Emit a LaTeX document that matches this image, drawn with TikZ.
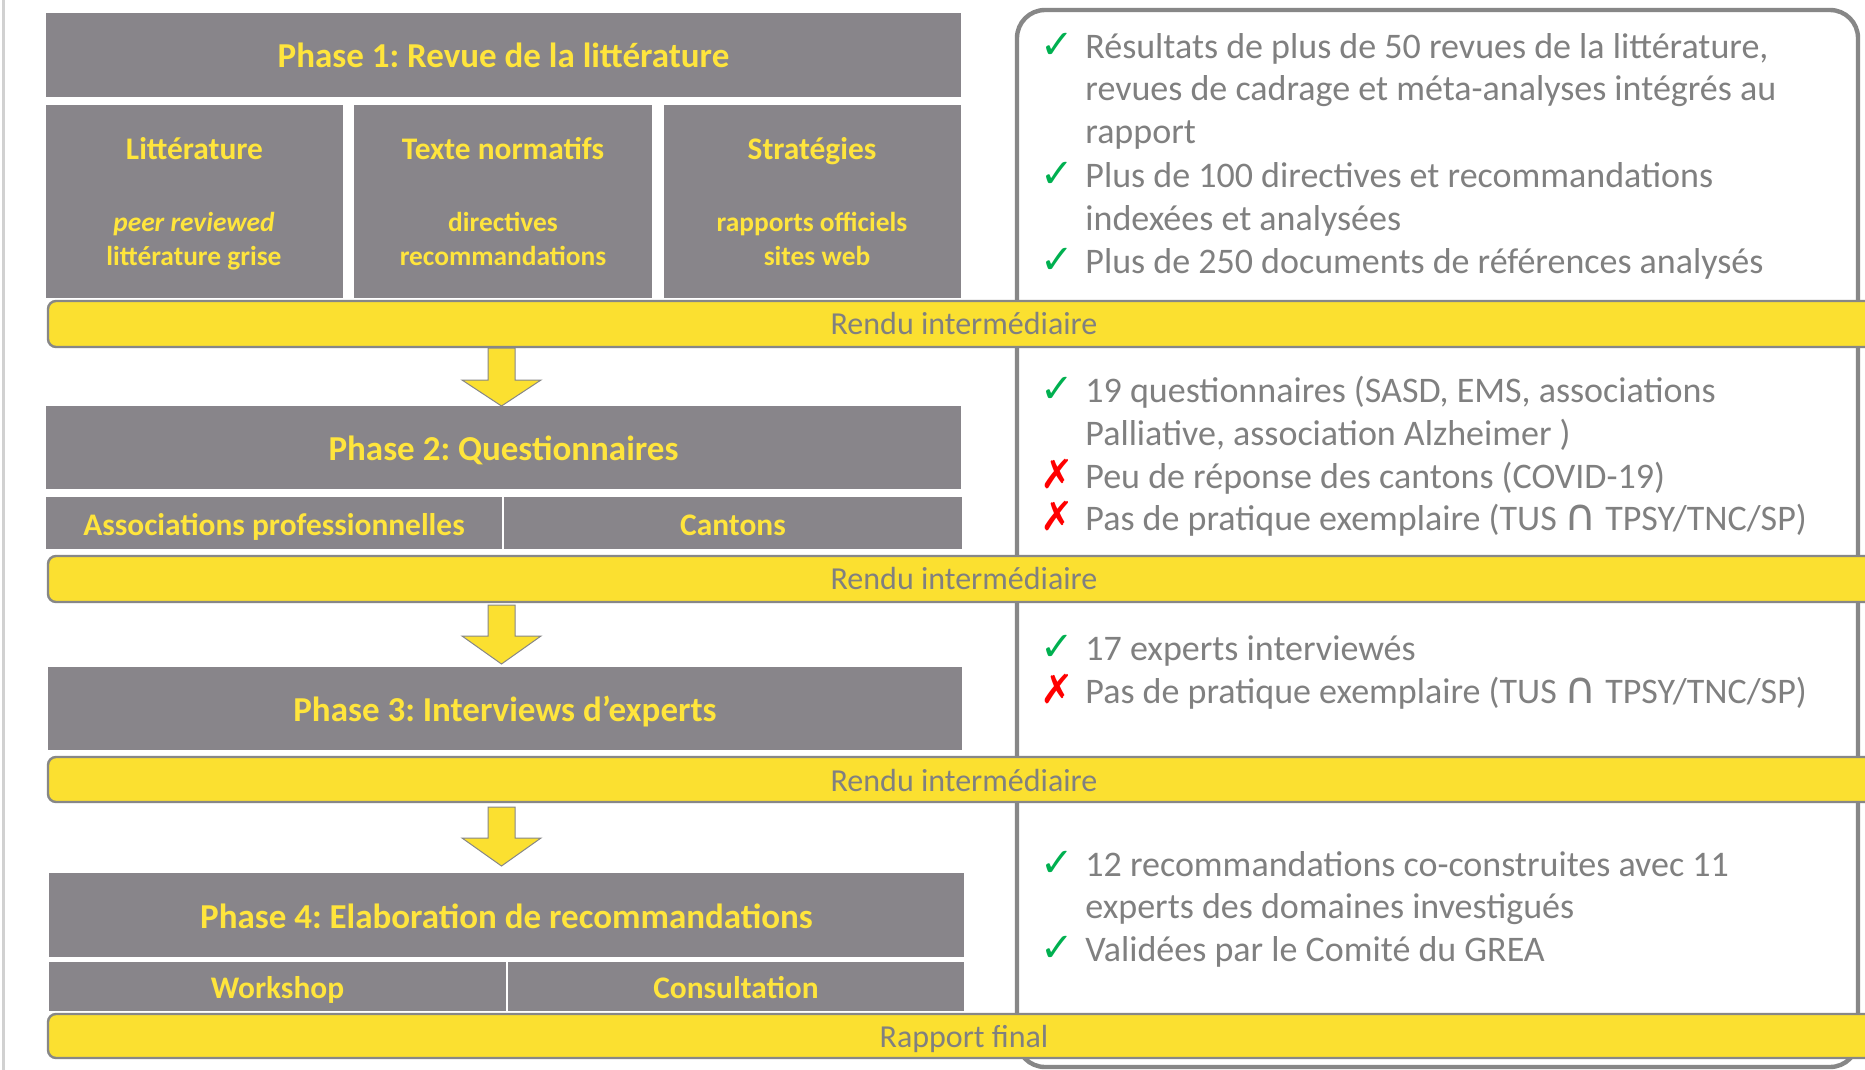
\documentclass[tikz,border=0pt]{standalone}
\usepackage{fontspec}
\setmainfont{Carlito}
\newfontfamily\symbfont{DejaVu Sans}
\frenchspacing
\definecolor{phasegray}{RGB}{136,133,138}
\definecolor{phaseyellow}{RGB}{255,229,60}
\definecolor{rendu}{RGB}{251,224,48}
\definecolor{notegray}{RGB}{128,128,128}
\definecolor{framegray}{RGB}{135,135,135}
\definecolor{okgreen}{RGB}{0,176,80}
\definecolor{kored}{RGB}{255,0,0}
\newcommand{\oktick}{\textcolor{okgreen}{\symbfont ✓}}
\newcommand{\kocross}{\textcolor{kored}{\symbfont ✗}}
\newcommand{\inter}{{\fontsize{22}{21.5}\selectfont\symbfont ∩}}
\begin{document}
\begin{tikzpicture}[x=0.5pt,y=-0.5pt,
	phase/.style={text=phaseyellow,font=\fontsize{17.5}{21}\selectfont\bfseries,anchor=base,inner sep=0pt},
	sub/.style={text=phaseyellow,font=\fontsize{15.7}{19}\selectfont\bfseries,anchor=base,inner sep=0pt},
	detail/.style={text=phaseyellow,font=\fontsize{13.7}{16}\selectfont\bfseries,anchor=base,inner sep=0pt},
	rendu/.style={fill=rendu,draw=framegray,line width=1.2pt,rounded corners=4pt},
	rendutext/.style={text=notegray,font=\fontsize{16}{19}\selectfont,anchor=base,inner sep=0pt},
	flow/.style={fill=rendu,draw=framegray,line width=0.5pt,line join=miter},
	note/.style={text=notegray,font=\fontsize{18}{21.5}\selectfont,anchor=base west,inner sep=0pt},
	tick/.style={font=\fontsize{20}{21.5}\selectfont,anchor=base west,inner sep=0pt}]
	\clip (0,0) rectangle (1865,1070);
	\fill[white] (0,0) rectangle (1865,1070);
	\draw[black!18,line width=1.5pt] (3,0) -- (3,1070);
	% results frame
	\draw[framegray,line width=2.2pt,rounded corners=14pt] (1017,10) rectangle (1858,1067);
	% phase 1
	\fill[phasegray] (46,13) rectangle (961,97);
	\fill[phasegray] (46,105) rectangle (343,298);
	\fill[phasegray] (354,105) rectangle (652,298);
	\fill[phasegray] (664,105) rectangle (961,298);
	\node[phase] (ph1) at (503.5,68) {Phase 1: Revue de la littérature};
	\node[sub] (lit) at (194.5,160) {Littérature};
	\node[detail] (lit1) at (194,232) {\itshape peer reviewed};
	\node[detail] (lit2) at (194,265) {littérature grise};
	\node[sub] (txt) at (503,160) {Texte normatifs};
	\node[detail] (txt1) at (503,232) {directives};
	\node[detail] (txt2) at (503,265) {recommandations};
	\node[sub] (str) at (812,160) {Stratégies};
	\node[detail] (str1) at (812,232) {rapports officiels};
	\node[detail] (str2) at (817,265) {sites web};
	% phase 2
	\fill[phasegray] (46,406) rectangle (961,489);
	\fill[phasegray] (46,497) rectangle (502,549);
	\fill[phasegray] (504,497) rectangle (962,549);
	\node[phase] (ph2) at (503.5,460) {Phase 2: Questionnaires};
	\node[sub] (asso) at (274,535) {Associations professionnelles};
	\node[sub] (cant) at (733,535) {Cantons};
	% phase 3
	\fill[phasegray] (48,667) rectangle (962,750);
	\node[phase] (ph3) at (505,721) {Phase 3: Interviews d’experts};
	% phase 4
	\fill[phasegray] (49,873) rectangle (964,957);
	\fill[phasegray] (49,962) rectangle (506,1011);
	\fill[phasegray] (508,962) rectangle (964,1011);
	\node[phase] (ph4) at (506.5,928) {Phase 4: Elaboration de recommandations};
	\node[sub] (work) at (277.5,998) {Workshop};
	\node[sub] (cons) at (736,998) {Consultation};
	% rendus
	\draw[rendu] (48,301) rectangle (1890,347);
	\draw[rendu] (48,556) rectangle (1890,602);
	\draw[rendu] (48,757) rectangle (1890,802);
	\draw[rendu] (48,1014) rectangle (1890,1058);
	\node[rendutext] (r1) at (964,334) {Rendu intermédiaire};
	\node[rendutext] (r2) at (964,589) {Rendu intermédiaire};
	\node[rendutext] (r3) at (964,791) {Rendu intermédiaire};
	\node[rendutext] (r4) at (964,1047) {Rapport final};
	% arrows
	\foreach \t/\b/\p in {348/380/406,605/636/664,807/838/866}
		\draw[flow] (488,\t) -- (515,\t) -- (515,\b) -- (541,\b) -- (501.5,\p) -- (462,\b) -- (488,\b) -- cycle;
	% results
	\foreach \y/\s [count=\i] in {59/\oktick,188/\oktick,273/\oktick,402/\oktick,488/\kocross,530/\kocross,660/\oktick,703/\kocross,876/\oktick,961/\oktick}
		\node[tick] (s\i) at (1040,\y) {\s};
	\node[note] (n1) at (1085,59) {Résultats de plus de 50 revues de la littérature,};
	\node[note] (n2) at (1085,101) {revues de cadrage et méta-analyses intégrés au};
	\node[note] (n3) at (1085,144) {rapport};
	\node[note] (n4) at (1085,188) {Plus de 100 directives et recommandations};
	\node[note] (n5) at (1085,230) {indexées et analysées};
	\node[note] (n6) at (1085,273) {Plus de 250 documents de références analysés};
	\node[note] (n7) at (1085,402) {19 questionnaires (SASD, EMS, associations};
	\node[note] (n8) at (1085,445) {Palliative, association Alzheimer )};
	\node[note] (n9) at (1085,488) {Peu de réponse des cantons (COVID-19)};
	\node[note] (n10) at (1085,530) {Pas de pratique exemplaire (TUS \inter{} TPSY/TNC/SP)};
	\node[note] (n11) at (1085,660) {17 experts interviewés};
	\node[note] (n12) at (1085,703) {Pas de pratique exemplaire (TUS \inter{} TPSY/TNC/SP)};
	\node[note] (n13) at (1085,876) {12 recommandations co-construites avec 11};
	\node[note] (n14) at (1085,918) {experts des domaines investigués};
	\node[note] (n15) at (1085,961) {Validées par le Comité du GREA};
\end{tikzpicture}
\end{document}
